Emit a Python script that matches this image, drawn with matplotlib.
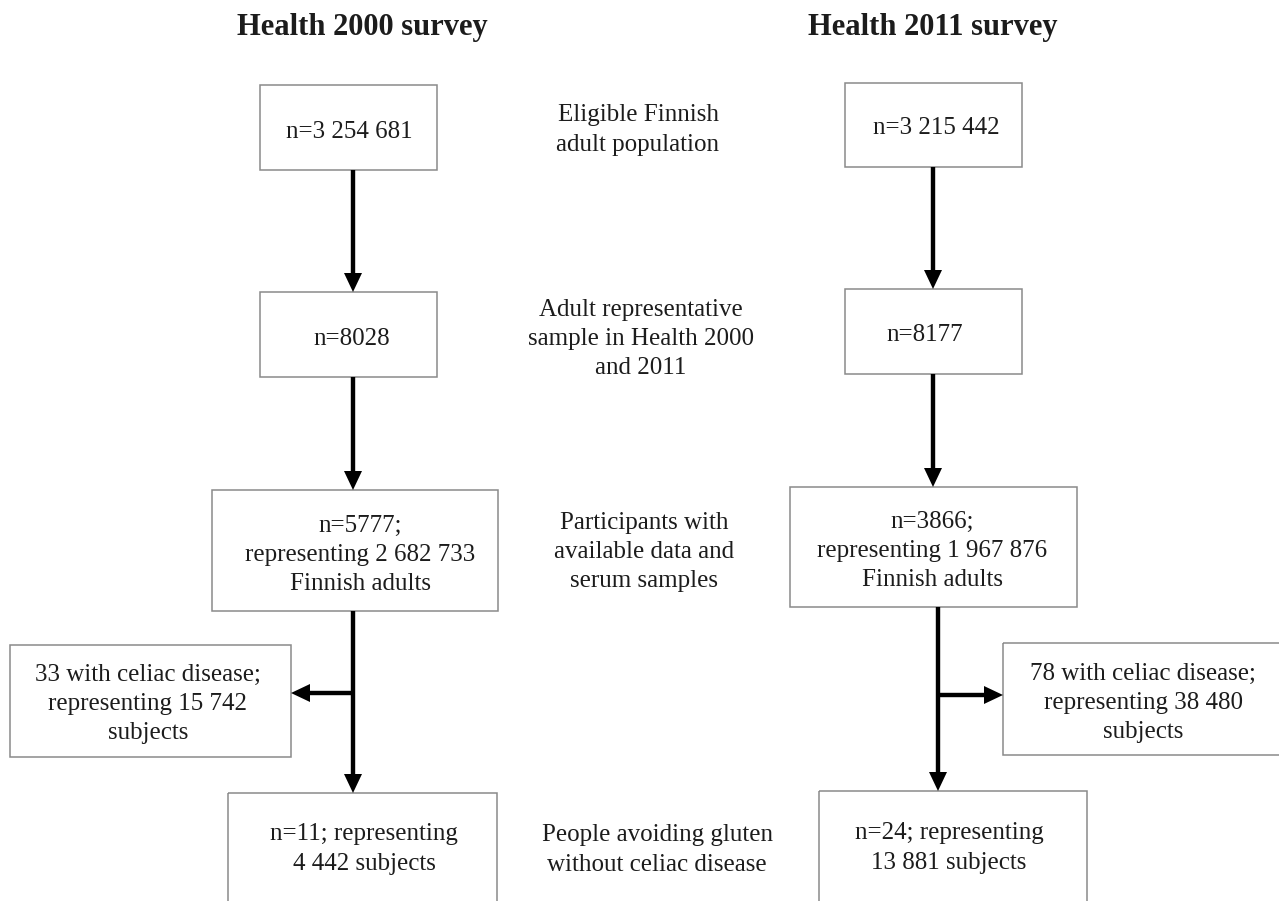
import matplotlib

matplotlib.use("Agg")
import matplotlib.pyplot as plt
from matplotlib.patches import Rectangle

plt.rcParams["font.family"] = ["Liberation Serif", "DejaVu Serif"]

# survey titles
TITLES = ["Health 2000 survey", "Health 2011 survey"]

# stage labels in the middle column
STAGES = [
    "Eligible Finnish\nadult population",
    "Adult representative\nsample in Health 2000\nand 2011",
    "Participants with\navailable data and\nserum samples",
    "People avoiding gluten\nwithout celiac disease",
]

# box texts, Health 2000 then Health 2011
LEFT_BOXES = [
    "n=3 254 681",
    "n=8028",
    "n=5777;\nrepresenting 2 682 733\nFinnish adults",
    "33 with celiac disease;\nrepresenting 15 742\nsubjects",
    "n=11; representing\n4 442 subjects",
]
RIGHT_BOXES = [
    "n=3 215 442",
    "n=8177",
    "n=3866;\nrepresenting 1 967 876\nFinnish adults",
    "78 with celiac disease;\nrepresenting 38 480\nsubjects",
    "n=24; representing\n13 881 subjects",
]

# layout in pixels: (x0, y0, x1, y1) box, (tx, ty) text centre
LEFT_GEOM = [
    ((260, 85, 437, 170), (349, 132)),
    ((260, 292, 437, 377), (352, 339)),
    ((212, 490, 498, 611), (360, 555)),
    ((10, 645, 291, 757), (148, 704)),
    ((228, 793, 497, 920), (364, 849)),
]
RIGHT_GEOM = [
    ((845, 83, 1022, 167), (936, 128)),
    ((845, 289, 1022, 374), (925, 335)),
    ((790, 487, 1077, 607), (932, 551)),
    ((1003, 643, 1300, 755), (1143, 703)),
    ((819, 791, 1087, 920), (949, 848)),
]
STAGE_POS = [(638, 130), (641, 339), (644, 552), (657, 850)]
TITLE_POS = [(362, 28), (933, 28)]

TEXT_COLOR = "#1c1c1c"
EDGE_COLOR = "#8a8a8a"
FS = 18
LS = 1.42


def arrow(ax, x0, y0, x1, y1):
    ax.arrow(x0, y0, x1 - x0, y1 - y0, width=4.4, head_width=18,
             head_length=19, length_includes_head=True,
             fc="black", ec="none")


def main():
    fig = plt.figure(figsize=(12.79, 9.01), dpi=100)
    ax = fig.add_axes([0, 0, 1, 1])
    ax.set_xlim(0, 1279)
    ax.set_ylim(901, 0)
    ax.axis("off")

    for title, (x, y) in zip(TITLES, TITLE_POS):
        ax.text(x, y, title, ha="center", va="center", fontsize=22,
                fontweight="bold", color=TEXT_COLOR)

    for label, (x, y) in zip(STAGES, STAGE_POS):
        ax.text(x, y, label, ha="center", va="center", fontsize=FS,
                color=TEXT_COLOR, linespacing=LS)

    for texts, geom in ((LEFT_BOXES, LEFT_GEOM), (RIGHT_BOXES, RIGHT_GEOM)):
        for label, ((x0, y0, x1, y1), (tx, ty)) in zip(texts, geom):
            ax.add_patch(Rectangle((x0, y0), x1 - x0, y1 - y0, fill=False,
                                   edgecolor=EDGE_COLOR, lw=1.1))
            ax.text(tx, ty, label, ha="center", va="center", fontsize=FS,
                    color=TEXT_COLOR, linespacing=LS)

    # Health 2000 arrows
    arrow(ax, 353, 170, 353, 292)
    arrow(ax, 353, 377, 353, 490)
    arrow(ax, 353, 611, 353, 793)
    arrow(ax, 355, 693, 291, 693)
    # Health 2011 arrows
    arrow(ax, 933, 167, 933, 289)
    arrow(ax, 933, 374, 933, 487)
    arrow(ax, 938, 607, 938, 791)
    arrow(ax, 936, 695, 1003, 695)

    fig.savefig("out.png", dpi=100, facecolor="white")
    plt.close(fig)


if __name__ == "__main__":
    main()
